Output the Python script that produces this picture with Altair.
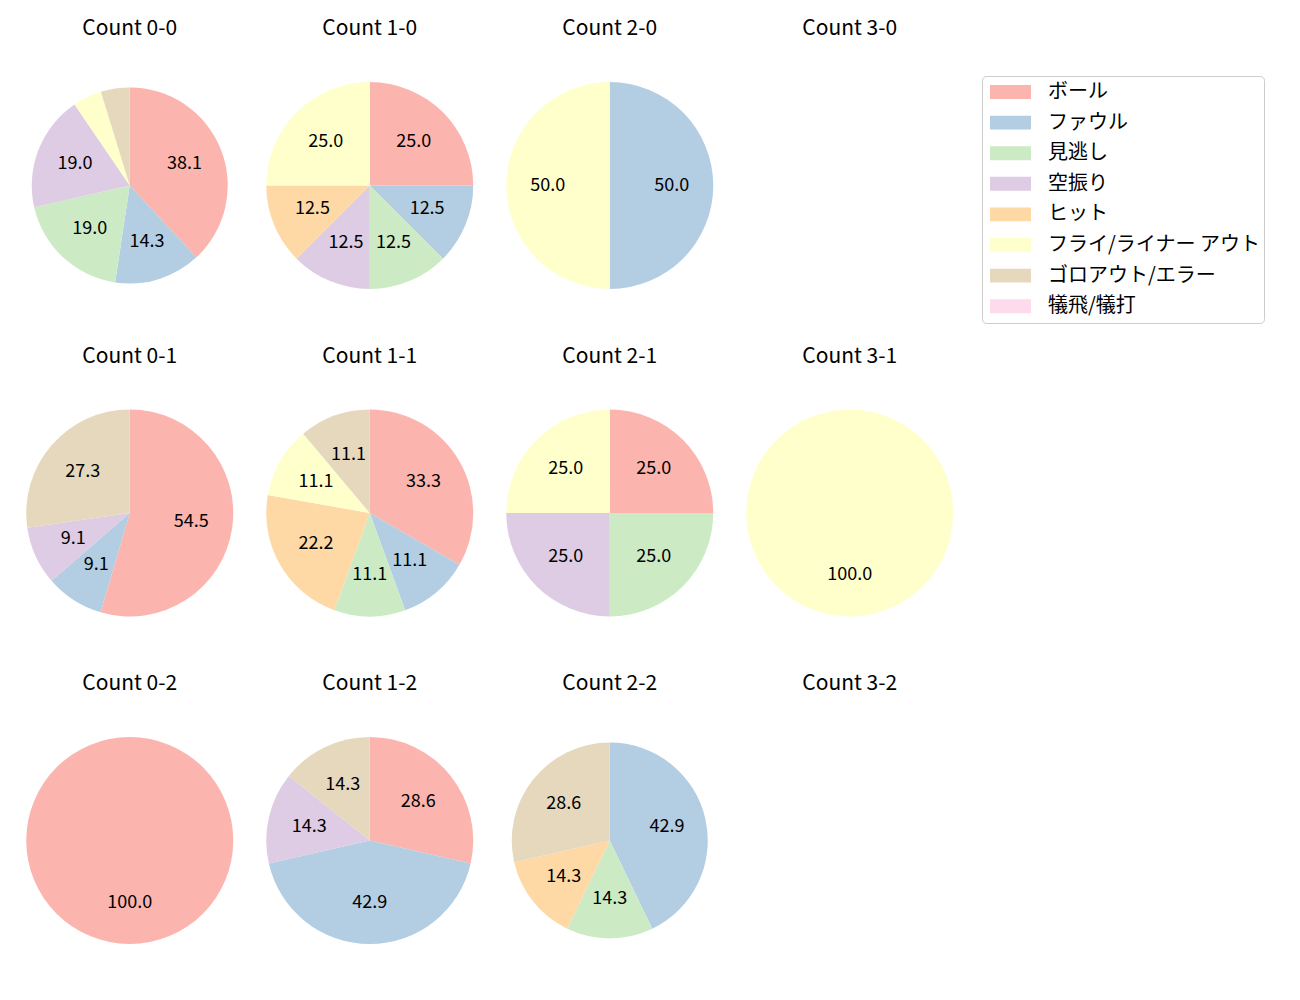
import altair as alt
import pandas as pd

categories = ["ボール", "ファウル", "見逃し", "空振り", "ヒット",
              "フライ/ライナー アウト", "ゴロアウト/エラー", "犠飛/犠打"]
colors = ["#fbb4ae", "#b3cde3", "#ccebc5", "#decbe4", "#fed9a6",
          "#ffffcc", "#e5d8bd", "#fddaec"]

grid = [["0-0", "1-0", "2-0", "3-0"],
        ["0-1", "1-1", "2-1", "3-1"],
        ["0-2", "1-2", "2-2", "3-2"]]

c_0_0 = [8, 3, 4, 4, 0, 1, 1, 0]
c_1_0 = [2, 1, 1, 1, 1, 2, 0, 0]
c_2_0 = [0, 1, 0, 0, 0, 1, 0, 0]
c_3_0 = [0, 0, 0, 0, 0, 0, 0, 0]
c_0_1 = [6, 1, 0, 1, 0, 0, 3, 0]
c_1_1 = [3, 1, 1, 0, 2, 1, 1, 0]
c_2_1 = [1, 0, 1, 1, 0, 1, 0, 0]
c_3_1 = [0, 0, 0, 0, 0, 1, 0, 0]
c_0_2 = [1, 0, 0, 0, 0, 0, 0, 0]
c_1_2 = [2, 3, 0, 1, 0, 0, 1, 0]
c_2_2 = [0, 3, 1, 0, 1, 0, 2, 0]
c_3_2 = [0, 0, 0, 0, 0, 0, 0, 0]

values = {"0-0": c_0_0, "1-0": c_1_0, "2-0": c_2_0, "3-0": c_3_0,
          "0-1": c_0_1, "1-1": c_1_1, "2-1": c_2_1, "3-1": c_3_1,
          "0-2": c_0_2, "1-2": c_1_2, "2-2": c_2_2, "3-2": c_3_2}

rows = []
for bs, vals in values.items():
    for i, (cat, n) in enumerate(zip(categories, vals)):
        if n > 0:
            rows.append({"bs": bs, "cat": cat, "idx": i, "n": n})
df = pd.DataFrame(rows, columns=["bs", "cat", "idx", "n"])

FONT = "Noto Sans CJK JP"
W, H = 239.5, 270
radius = {"0-0": 98, "2-2": 98}

color_enc = alt.Color(
    "cat:N",
    scale=alt.Scale(domain=categories, range=colors),
    legend=alt.Legend(
        title=None, orient="none", legendX=972, legendY=25.5,
        symbolType="M-1,-0.34L1,-0.34L1,0.34L-1,0.34Z", symbolSize=1681,
        symbolStrokeWidth=0, symbolOpacity=1, symbolOffset=5,
        labelFontSize=20, labelFont=FONT, labelColor="#000000",
        labelLimit=400, labelOffset=17, clipHeight=26, rowPadding=4.6, padding=3,
        strokeColor="#cccccc", cornerRadius=4, fillColor="white",
    ),
)


def pie(bs):
    r = radius.get(bs, 103.5)
    base = (
        alt.Chart(df)
        .transform_filter(alt.datum.bs == bs)
        .transform_joinaggregate(total="sum(n)")
        .transform_calculate(
            pct="100 * datum.n / datum.total",
            label="datum.pct >= 5 ? format(datum.pct, '.1f') : ''",
        )
    )
    theta = alt.Theta("n:Q", stack="normalize")
    order = alt.Order("idx:Q")
    arc = base.mark_arc(outerRadius=r).encode(theta=theta, order=order, color=color_enc)
    txt = base.mark_text(radius=0.6 * r, fontSize=18, font=FONT, color="black").encode(
        theta=theta, order=order, text="label:N"
    )
    return alt.layer(arc, txt).properties(
        width=W, height=H,
        title=alt.TitleParams(f"Count {bs}", fontSize=21, font=FONT,
                              fontWeight="normal", color="black", offset=11.5,
                              anchor="middle"),
    )


row_charts = [
    alt.hconcat(*[pie(bs) for bs in row], spacing=0).resolve_scale(theta="independent")
    for row in grid
]
chart = (
    alt.vconcat(*row_charts, spacing=24.5)
    .resolve_scale(theta="independent")
    .properties(padding={"left": 2, "top": 9.5, "right": 5, "bottom": 5})
    .configure_view(stroke=None)
    .configure(font=FONT)
)

chart.save("out.html", embed_options={"renderer": "svg", "actions": False})
